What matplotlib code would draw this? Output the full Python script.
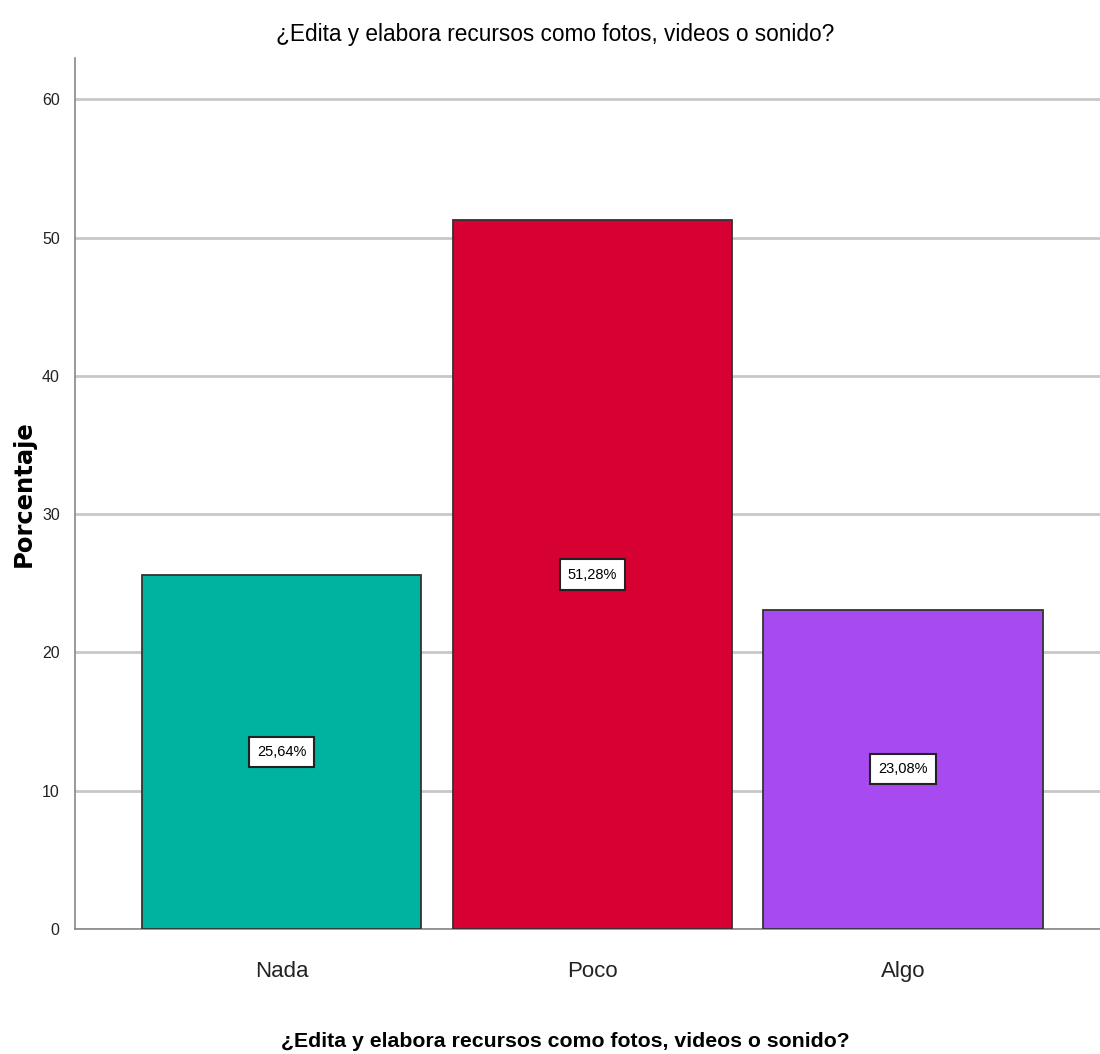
import matplotlib.pyplot as plt
from matplotlib import font_manager

categories = ["Nada", "Poco", "Algo"]
percentages = [25.64, 51.28, 23.08]
value_labels = ["25,64%", "51,28%", "23,08%"]
bar_colors = ["#00B2A0", "#D70032", "#A74BF0"]
y_ticks = [0, 10, 20, 30, 40, 50, 60]

names = {f.name for f in font_manager.fontManager.ttflist}
narrow = "Liberation Sans Narrow" if "Liberation Sans Narrow" in names else "Liberation Sans"

title = "¿Edita y elabora recursos como fotos, videos o sonido?"

fig = plt.figure(figsize=(11, 10.54), dpi=100)
ax = fig.add_axes([75 / 1100, 125 / 1054, 1 - 75 / 1100, (929 - 58) / 1054])

x = range(len(categories))
ax.bar(x, percentages, width=0.9, color=bar_colors, edgecolor="#333333", linewidth=1.3, zorder=3)

for i, (v, lab) in enumerate(zip(percentages, value_labels)):
    ax.text(i, v / 2, lab, ha="center", va="center", fontsize=10.5, family=narrow, zorder=4,
            bbox=dict(boxstyle="square,pad=0.55", facecolor="white", edgecolor="#222222", linewidth=1.5))

ax.set_xlim(-0.665, 2.634)
ax.set_ylim(0, 63)
ax.set_yticks(y_ticks)
ax.set_yticklabels([str(t) for t in y_ticks], family=narrow, fontsize=11.5, color="#222222")
ax.set_xticks(list(x))
ax.set_xticklabels(categories, family=narrow, fontsize=16, color="#222222")
ax.tick_params(axis="both", length=0)
ax.tick_params(axis="x", pad=23)
ax.tick_params(axis="y", pad=11)
ax.yaxis.grid(True, color="#C8C8C8", linewidth=2, zorder=0)

for s in ["top", "right"]:
    ax.spines[s].set_visible(False)
for s in ["left", "bottom"]:
    ax.spines[s].set_color("#888888")
    ax.spines[s].set_linewidth(1.2)

ax.set_ylabel("Porcentaje", fontsize=17.5, fontweight="bold", family="DejaVu Sans")
ax.yaxis.set_label_coords(-0.038, 0.5)
ax.set_xlabel(title, fontsize=15.3, fontweight="bold", family=narrow)
ax.xaxis.set_label_coords((565 - 75) / 1025, -(1032 - 929) / 871)
fig.text(555 / 1100, 1 - 34 / 1054, title, ha="center", va="center", fontsize=16.3, family=narrow)

plt.savefig("out.png", dpi=100)
